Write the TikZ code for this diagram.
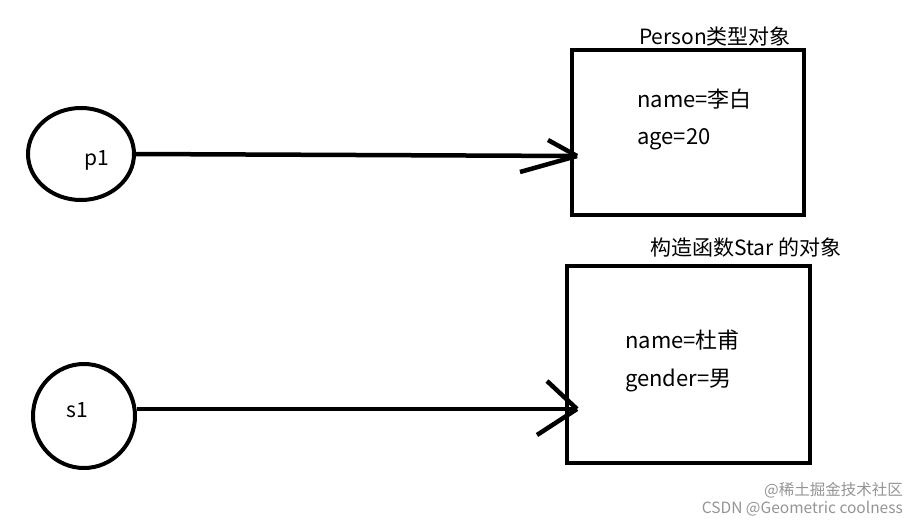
\documentclass[tikz,border=0pt]{standalone}
\usepackage{fontspec}
\setmainfont{Noto Sans CJK SC}
\usetikzlibrary{shapes.geometric}
\tikzset{
  var/.style={draw,ellipse,line width=4pt,inner sep=0pt},
  obj/.style={draw,rectangle,line width=4.5pt,inner sep=0pt},
  txt/.style={font=\fontsize{21}{25}\selectfont,inner sep=0pt},
  attr/.style={font=\fontsize{22}{26}\selectfont,inner sep=0pt,anchor=west},
  ref/.style={line width=4.5pt},
  wmark/.style={font=\fontsize{15.5}{18}\selectfont,text=black!42,inner sep=0pt}
}
\begin{document}
\begin{tikzpicture}[x=1pt,y=-1pt]
\useasboundingbox (0,0) rectangle (919,525);
\node[var,minimum width=106pt,minimum height=92pt] (p1) at (81,154) {};
\node[txt] (p1t) at (97,160) {p1};
\node[var,minimum width=102pt,minimum height=104pt] (s1) at (84,416) {};
\node[txt] (s1t) at (77,410) {s1};
\node[obj,minimum width=232pt,minimum height=165pt] (Person) at (688,132.5) {};
\node[txt] (PersonT) at (715,36) {Person类型对象};
\node[attr] (name1) at (637,99) {name=李白};
\node[attr] (age1) at (637,139) {age=20};
\node[obj,minimum width=243pt,minimum height=197pt] (Star) at (688.5,364.5) {};
\node[txt] (StarT) at (746,248) {构造函数Star 的对象};
\node[attr] (name2) at (625,340) {name=杜甫};
\node[attr] (gender2) at (625,380) {gender=男};
\coordinate (h1) at (577,156);
\coordinate (h2) at (577,409);
\draw[ref] (p1.east) -- (h1);
\draw[ref] (548,140) -- (h1);
\draw[ref] (520,172) -- (h1);
\draw[ref] (s1.east |- h2) -- (h2);
\draw[ref] (547,381) -- (h2);
\draw[ref] (537,435) -- (h2);
\node[wmark,anchor=east] (wm1) at (903,490) {@稀土掘金技术社区};
\node[wmark,anchor=east] (wm2) at (903,509) {CSDN @Geometric coolness};
\end{tikzpicture}
\end{document}
